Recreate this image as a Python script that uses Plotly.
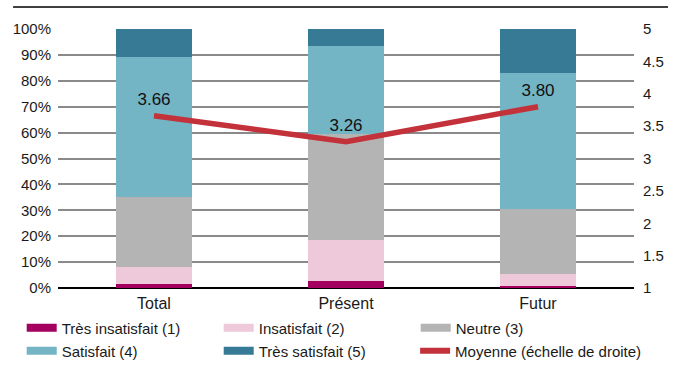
import plotly.graph_objects as go

categories = ["Total", "Présent", "Futur"]
tres_insatisfait = [1.5, 2.8, 0.8]
insatisfait = [6.6, 15.7, 4.5]
neutre = [27.2, 41.0, 25.1]
satisfait = [54.0, 34.1, 52.8]
tres_satisfait = [10.7, 6.4, 16.8]
moyenne = [3.66, 3.26, 3.80]

series_names = ["Très insatisfait (1)", "Insatisfait (2)", "Neutre (3)",
                "Satisfait (4)", "Très satisfait (5)"]
series_values = [tres_insatisfait, insatisfait, neutre, satisfait, tres_satisfait]
colors = ["#A3005F", "#EDC9D9", "#B4B4B4", "#73B4C5", "#367A96"]
line_color = "#C3313A"
line_name = "Moyenne (échelle de droite)"
left_ticks = list(range(0, 101, 10))
right_ticks = [1, 1.5, 2, 2.5, 3, 3.5, 4, 4.5, 5]

FONT = "Liberation Sans, Arial, sans-serif"

fig = go.Figure()
for name, vals, col in zip(series_names, series_values, colors):
    fig.add_trace(go.Bar(x=categories, y=vals, name=name, marker_color=col,
                         marker_line_width=0, width=0.4, showlegend=False,
                         hoverinfo="skip"))

fig.add_trace(go.Scatter(x=categories, y=moyenne, yaxis="y2", mode="lines+markers+text",
                         text=[f"{v:.2f}" for v in moyenne], textposition="top center",
                         textfont=dict(size=17, color="#111111", family=FONT),
                         marker=dict(size=9, color="rgba(0,0,0,0)"),
                         line=dict(color=line_color, width=5.5), showlegend=False))

# legend entries (wide rectangles like the original), in a 3x2 grid
legend_names = series_names + [line_name]
legend_colors = colors + [line_color]
legend_ids = ["legend", "legend", "legend", "legend2", "legend2", "legend3"]
for i, (name, col) in enumerate(zip(legend_names, legend_colors)):
    fig.add_trace(go.Scatter(x=[None], y=[None], mode="lines", name=name,
                             legend=legend_ids[i],
                             line=dict(color=col, width=8 if i < 5 else 6)))

leg_common = dict(orientation="h", xanchor="left", yanchor="middle",
                  font=dict(size=15), itemwidth=30, traceorder="normal",
                  bgcolor="rgba(0,0,0,0)")
fig.update_layout(
    width=682, height=378,
    margin=dict(l=58, r=48, t=29, b=89),
    barmode="stack",
    plot_bgcolor="white", paper_bgcolor="white",
    font=dict(family=FONT, size=15, color="#1a1a1a"),
    xaxis=dict(type="category", tickfont=dict(size=16), showgrid=False,
               showline=False, ticks="", ticklabelstandoff=4),
    yaxis=dict(range=[0, 100], tickvals=left_ticks,
               ticktext=[f"{t}%" for t in left_ticks],
               showgrid=True, gridcolor="#8a8a8a", gridwidth=1.5,
               zeroline=True, zerolinecolor="#000000", zerolinewidth=1.5,
               showline=False, ticks="", ticklabelstandoff=6),
    yaxis2=dict(range=[1, 5], tickvals=right_ticks,
                ticktext=[f"{t:g}" for t in right_ticks],
                overlaying="y", side="right", showgrid=False, zeroline=False,
                showline=False, ticks="", ticklabelstandoff=8),
    legend=dict(x=-0.063, y=(289 - 328) / 260, entrywidth=152, entrywidthmode="pixels",
                **leg_common),
    legend2=dict(x=-0.063, y=(289 - 351) / 260, entrywidth=152, entrywidthmode="pixels",
                 **leg_common),
    legend3=dict(x=0.620, y=(289 - 351) / 260, **leg_common),
    shapes=[dict(type="line", xref="paper", yref="paper",
                 x0=-0.078, x1=1.059, y0=1.0846, y1=1.0846,
                 line=dict(color="#404040", width=2))],
)

fig.write_html("out.html")
